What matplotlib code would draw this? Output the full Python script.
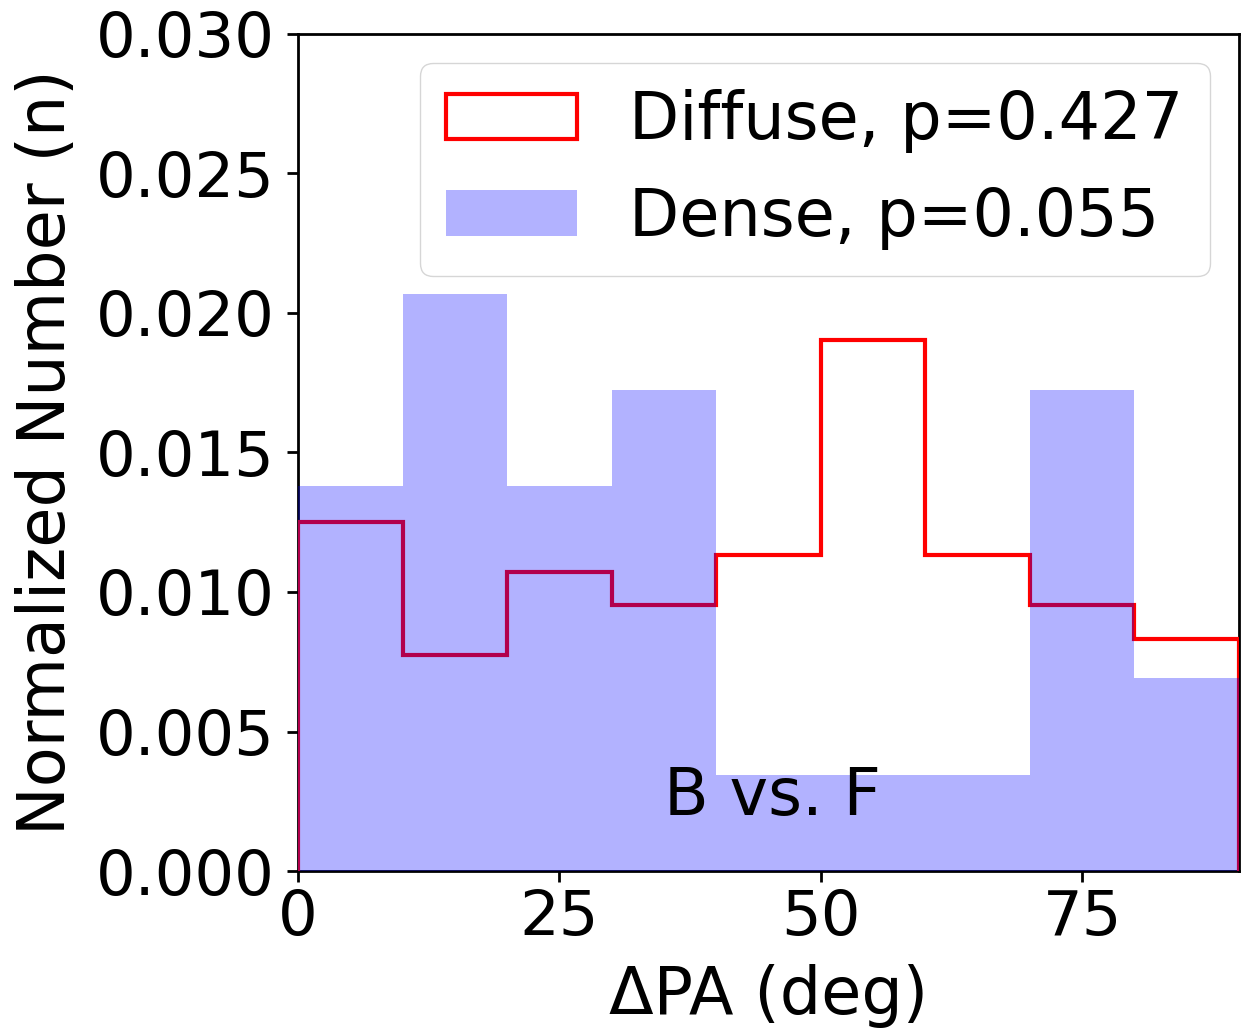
import numpy as np
import matplotlib
matplotlib.use("Agg")
import matplotlib.pyplot as plt

bin_edges = [0, 10, 20, 30, 40, 50, 60, 70, 80, 90]
diffuse_density = [0.01250, 0.00774, 0.01071, 0.00952, 0.01131, 0.01905, 0.01131, 0.00952, 0.00833]
dense_density = [0.01379, 0.02069, 0.01379, 0.01724, 0.00345, 0.00345, 0.00345, 0.01724, 0.00690]
diffuse_label = "Diffuse, p=0.427"
dense_label = "Dense, p=0.055"
x_ticks = [0, 25, 50, 75]
y_ticks = [0.000, 0.005, 0.010, 0.015, 0.020, 0.025, 0.030]

plt.rcParams['font.family'] = ['DejaVu Sans']
fs_tick = 45
fs = 47

fig = plt.figure(figsize=(12.41, 10.34), dpi=100)
ax = fig.add_axes([298/1241, 1-871/1034, (1239-298)/1241, (871-34)/1034])

centers = [(a + b) / 2 for a, b in zip(bin_edges[:-1], bin_edges[1:])]
ax.hist(centers, bins=bin_edges, weights=diffuse_density, histtype='step',
        color='red', linewidth=3, label=diffuse_label, zorder=3)
ax.hist(centers, bins=bin_edges, weights=dense_density, histtype='stepfilled',
        color='blue', alpha=0.3, linewidth=0, label=dense_label, zorder=3)

ax.text(35, 0.002, "B vs. F", fontsize=fs)

ax.set_xlim(0, 90)
ax.set_ylim(0, 0.030)
ax.set_xticks(x_ticks)
ax.set_yticks(y_ticks)
ax.set_yticklabels([f"{v:.3f}" for v in y_ticks])
ax.tick_params(labelsize=fs_tick, length=8, width=2)
ax.tick_params(axis='y', pad=9)
ax.tick_params(axis='x', pad=4)
for s in ax.spines.values():
    s.set_linewidth(2)

ax.set_xlabel("ΔPA (deg)", fontsize=fs, labelpad=12)
ax.set_ylabel("Normalized Number (n)", fontsize=fs, labelpad=12)

leg = ax.legend(loc='upper right', fontsize=fs, frameon=True, fancybox=True,
                borderaxespad=0.45, handlelength=2.0)

fig.savefig("out.png", dpi=100)
